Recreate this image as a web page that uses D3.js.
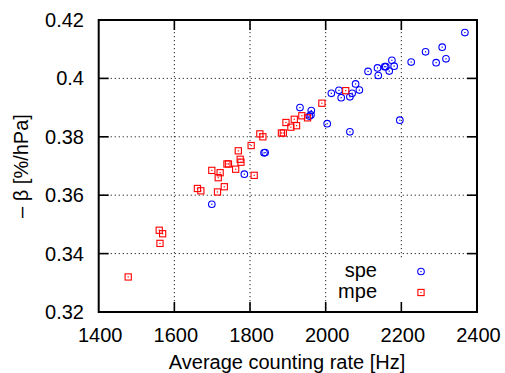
<!DOCTYPE html>
<html>
<head>
<meta charset="utf-8">
<script src="https://cdn.jsdelivr.net/npm/d3@7"></script>
<style>
  html, body { margin: 0; padding: 0; background: #fff; }
  svg { display: block; }
  text { font-family: "Liberation Sans", Arial, Helvetica, sans-serif; fill: #000; }
</style>
</head>
<body>
<svg id="chart" width="505" height="373"></svg>
<script>
// ---- data ----
const speRate = [2368, 2308, 2264, 2318, 2292, 2226, 2175, 2181, 2159, 2156, 2168, 2137, 2139, 2112,
  2079, 2089, 2070, 2064, 2041, 2035, 2015, 2004, 2064, 2196, 1932, 1962, 1961, 1957, 1840, 1837, 1785, 1699];
const speBeta = [0.4157, 0.4107, 0.4091, 0.4067, 0.4054, 0.4056, 0.4062, 0.4042, 0.4040, 0.4040, 0.4025, 0.4036, 0.4010, 0.4024,
  0.3981, 0.3960, 0.3949, 0.3937, 0.3934, 0.3959, 0.3949, 0.3845, 0.3817, 0.3857, 0.3900, 0.3890, 0.3875, 0.3871, 0.3746, 0.3745, 0.3672, 0.3569];

const mpeRate = [2053, 1990, 1937, 1952, 1917, 1895, 1923, 1908, 1883, 1888, 1826, 1834, 1803, 1769, 1774, 1776,
  1739, 1743, 1762, 1699, 1721, 1811, 1716, 1732, 1661, 1670, 1714, 1560, 1569, 1562, 1478];
const mpeBeta = [0.3958, 0.3915, 0.3872, 0.3865, 0.3860, 0.3849, 0.3838, 0.3833, 0.3813, 0.3813, 0.3810, 0.3800, 0.3770, 0.3752, 0.3723, 0.3713,
  0.3707, 0.3707, 0.3689, 0.3685, 0.3677, 0.3668, 0.3660, 0.3629, 0.3623, 0.3615, 0.3611, 0.3480, 0.3468, 0.3435, 0.3320];

const xTicks = [1400, 1600, 1800, 2000, 2200, 2400];
const yTicks = [0.32, 0.34, 0.36, 0.38, 0.40, 0.42];
const yTickLabels = ["0.32", "0.34", "0.36", "0.38", "0.4", "0.42"];
const seriesNames = ["spe", "mpe"];
const xTitle = "Average counting rate [Hz]";
const yTitle = "\u2013 \u03b2 [%/hPa]";

// ---- layout ----
const L = 98.7, R = 477, T = 20, B = 312;
const svg = d3.select("#chart");
const x = d3.scaleLinear().domain([1400, 2400]).range([L, R]);
const y = d3.scaleLinear().domain([0.32, 0.42]).range([B, T]);

// grid
const grid = svg.append("g").attr("stroke", "#222").attr("stroke-width", 1).attr("stroke-dasharray", "1.2,2.8");
grid.selectAll("line.gx").data(xTicks.slice(1, -1)).join("line")
  .attr("x1", d => x(d)).attr("x2", d => x(d)).attr("y1", T).attr("y2", B);
grid.selectAll("line.gy").data(yTicks.slice(1, -1)).join("line")
  .attr("x1", L).attr("x2", R).attr("y1", d => y(d)).attr("y2", d => y(d));

// legend background box (opaque)
svg.append("rect").attr("x", 331).attr("y", 260).attr("width", 140).attr("height", 52).attr("fill", "#fff");

// points
const pts = svg.append("g");
const speData = speRate.map((r, i) => [r, speBeta[i]]);
const mpeData = mpeRate.map((r, i) => [r, mpeBeta[i]]);

function drawCircle(g, cx, cy) {
  g.append("circle").attr("cx", cx).attr("cy", cy).attr("r", 3.3)
    .attr("fill", "none").attr("stroke", "#0000ff").attr("stroke-width", 1.1);
  g.append("rect").attr("x", cx - 0.6).attr("y", cy - 0.6).attr("width", 1.2).attr("height", 1.2).attr("fill", "#0000ff");
}
function drawSquare(g, cx, cy) {
  g.append("rect").attr("x", cx - 3.1).attr("y", cy - 3.1).attr("width", 6.2).attr("height", 6.2)
    .attr("fill", "none").attr("stroke", "#ff0000").attr("stroke-width", 1.1);
  g.append("rect").attr("x", cx - 0.6).attr("y", cy - 0.6).attr("width", 1.2).attr("height", 1.2).attr("fill", "#ff0000");
}
speData.forEach(d => drawCircle(pts, x(d[0]), y(d[1])));
mpeData.forEach(d => drawSquare(pts, x(d[0]), y(d[1])));

// frame & ticks
const axes = svg.append("g").attr("stroke", "#000").attr("stroke-width", 1.6);
axes.append("rect").attr("x", L).attr("y", T).attr("width", R - L).attr("height", B - T).attr("fill", "none").attr("stroke-width", 2);
const tl = 10;
xTicks.slice(1, -1).forEach(v => {
  axes.append("line").attr("x1", x(v)).attr("x2", x(v)).attr("y1", B).attr("y2", B - tl);
  axes.append("line").attr("x1", x(v)).attr("x2", x(v)).attr("y1", T).attr("y2", T + tl);
});
yTicks.slice(1, -1).forEach(v => {
  axes.append("line").attr("x1", L).attr("x2", L + tl).attr("y1", y(v)).attr("y2", y(v));
  axes.append("line").attr("x1", R).attr("x2", R - tl).attr("y1", y(v)).attr("y2", y(v));
});

// tick labels
const fs = 20;
svg.append("g").selectAll("text").data(xTicks).join("text")
  .attr("x", d => x(d) + 1.5).attr("y", 341.5).attr("text-anchor", "middle")
  .attr("font-size", fs).text(d => d);
svg.append("g").selectAll("text").data(yTicks).join("text")
  .attr("x", 84).attr("y", d => y(d) + 7).attr("text-anchor", "end")
  .attr("font-size", fs).text((d, i) => yTickLabels[i]);

// axis titles
svg.append("text").attr("x", 287).attr("y", 368.5).attr("text-anchor", "middle")
  .attr("font-size", fs).text(xTitle);
svg.append("text").attr("transform", "translate(27.5,166) rotate(-90)").attr("text-anchor", "middle")
  .attr("font-size", fs).text(yTitle);

// legend
const legY = [271.5, 292.5];
seriesNames.forEach((n, i) => {
  svg.append("text").attr("x", 377).attr("y", legY[i] + 5.5).attr("text-anchor", "end")
    .attr("font-size", fs).text(n);
});
drawCircle(svg.append("g"), 421, legY[0]);
drawSquare(svg.append("g"), 421, legY[1]);
</script>
</body>
</html>
